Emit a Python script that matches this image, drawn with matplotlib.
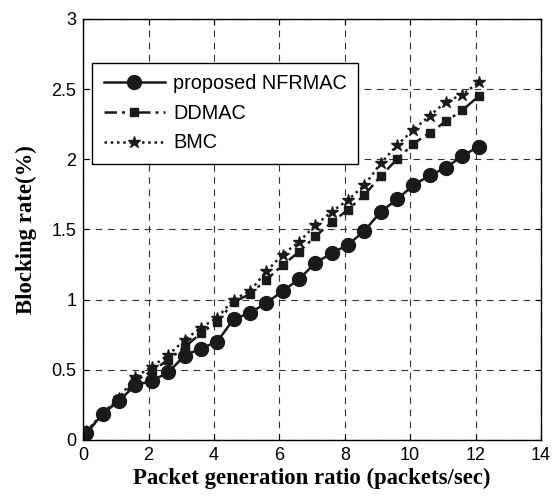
import matplotlib
matplotlib.use("Agg")
import matplotlib.pyplot as plt

x_vals = [0.1, 0.6, 1.1, 1.6, 2.1, 2.6, 3.1, 3.6, 4.1, 4.6, 5.1, 5.6, 6.1,
          6.6, 7.1, 7.6, 8.1, 8.6, 9.1, 9.6, 10.1, 10.6, 11.1, 11.6, 12.1]
nfrmac = [0.05, 0.185, 0.28, 0.39, 0.42, 0.48, 0.60, 0.65, 0.70, 0.86, 0.905,
          0.975, 1.06, 1.145, 1.26, 1.33, 1.39, 1.49, 1.625, 1.715, 1.815,
          1.885, 1.94, 2.025, 2.09]
ddmac = [0.05, 0.18, 0.29, 0.42, 0.49, 0.57, 0.66, 0.76, 0.84, 0.98, 1.04,
         1.14, 1.245, 1.34, 1.45, 1.55, 1.64, 1.745, 1.88, 2.0, 2.11, 2.19,
         2.27, 2.35, 2.45]
bmc = [0.06, 0.19, 0.30, 0.45, 0.52, 0.605, 0.71, 0.80, 0.87, 1.0, 1.06,
       1.2, 1.32, 1.41, 1.53, 1.625, 1.71, 1.815, 1.97, 2.1, 2.21, 2.31,
       2.41, 2.46, 2.55]
labels = ["proposed NFRMAC", "DDMAC", "BMC"]
x_ticks = [0, 2, 4, 6, 8, 10, 12, 14]
y_ticks = [0, 0.5, 1, 1.5, 2, 2.5, 3]
y_tick_labels = ["0", "0.5", "1", "1.5", "2", "2.5", "3"]

fig = plt.figure(figsize=(5.58, 4.97), dpi=100)
ax = fig.add_axes([0.149, 0.115, 0.8205, 0.847])

ax.plot(x_vals, nfrmac, color="#1a1a1a", lw=1.8, ls="-", marker="o",
        ms=10, label=labels[0])
ax.plot(x_vals, ddmac, color="#1a1a1a", lw=1.8, ls=(0, (5, 2, 1.2, 2, 1.2, 2)),
        marker="s", ms=6, label=labels[1])
ax.plot(x_vals, bmc, color="#1a1a1a", lw=1.8, ls=(0, (1, 1.5)),
        marker="*", ms=9, label=labels[2])

ax.set_xlim(0, 14)
ax.set_ylim(0, 3)
ax.set_xticks(x_ticks)
ax.set_yticks(y_ticks)
ax.set_yticklabels(y_tick_labels)
ax.grid(True, color="#333333", ls=(0, (6, 5)), lw=0.8)
ax.tick_params(direction="in", top=True, right=True, length=4,
               labelsize=13, pad=5)
for lab in ax.get_xticklabels() + ax.get_yticklabels():
    lab.set_fontfamily("Liberation Sans")
for sp in ax.spines.values():
    sp.set_linewidth(1.0)

ax.set_xlabel("Packet generation ratio (packets/sec)", fontfamily="Liberation Serif",
              fontweight="bold", fontsize=16.4, labelpad=3)
ax.set_ylabel("Blocking rate(%)", fontfamily="Liberation Serif",
              fontweight="bold", fontsize=16.4, labelpad=10)

leg = ax.legend(loc="upper left", bbox_to_anchor=(0.02, 0.895),
                prop={"family": "Liberation Sans", "size": 14.3},
                handlelength=3.1, fancybox=False, edgecolor="black",
                framealpha=1, borderaxespad=0, handletextpad=0.4,
                labelspacing=0.53, borderpad=0.57)
leg.get_frame().set_linewidth(1.0)

fig.savefig("out.png", dpi=100)
